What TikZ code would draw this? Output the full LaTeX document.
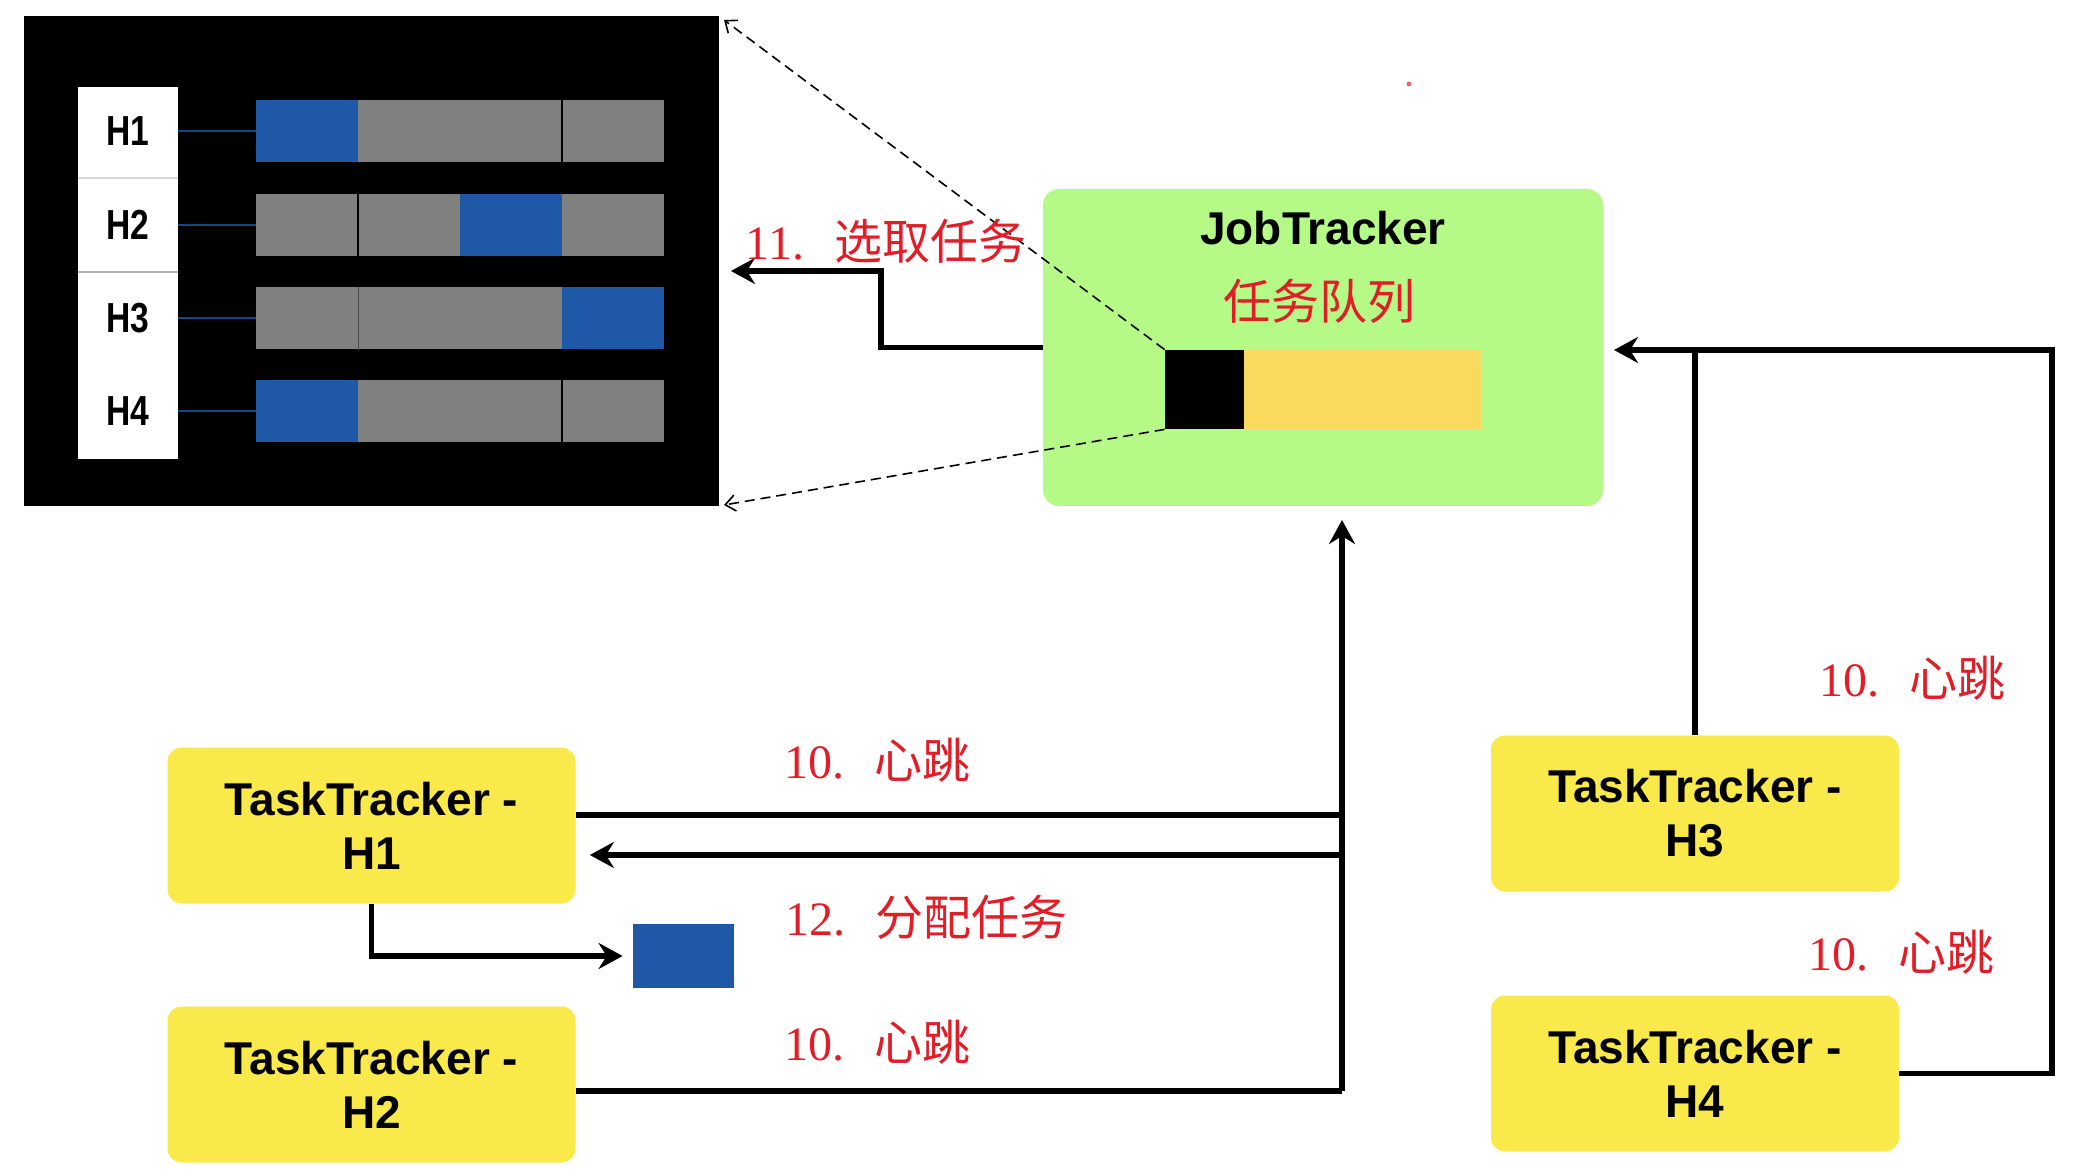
\documentclass[tikz,border=0pt]{standalone}
\usepackage{fontspec}
\setmainfont{Liberation Serif}
\newfontfamily\hv{Liberation Sans}
\newfontfamily\hvc[FakeStretch=0.8]{Liberation Sans}
\newfontfamily\cjk{Noto Sans CJK SC}
\usetikzlibrary{arrows.meta}
\definecolor{jtgreen}{RGB}{181,250,135}
\definecolor{ttyellow}{RGB}{249,233,74}
\definecolor{qyellow}{RGB}{250,218,94}
\definecolor{taskblue}{RGB}{30,88,166}
\definecolor{bargray}{RGB}{128,128,128}
\definecolor{lblred}{RGB}{225,30,40}
\tikzset{
  ttbox/.style={fill=ttyellow, rounded corners=7pt, minimum width=204pt, minimum height=78pt, inner sep=0pt, align=center, font=\hv\bfseries\fontsize{23}{27}\selectfont},
  rowlbl/.style={inner sep=0pt, font=\hvc\bfseries\fontsize{21}{24}\selectfont},
  barbox/.style={fill=bargray, minimum width=204pt, minimum height=31pt, inner sep=0pt},
  bluebox/.style={fill=taskblue, minimum height=31pt, minimum width=51pt, inner sep=0pt},
  conn/.style={line width=2.6pt, -{Stealth[length=12pt,width=13pt,inset=4pt]}},
  wire/.style={line width=2.6pt},
  dasharrow/.style={line width=0.8pt, dash pattern=on 5pt off 3pt, -{Straight Barb[length=5pt,width=8pt]}},
  redlbl/.style={text=lblred, inner sep=0pt, font=\fontsize{24}{28}\selectfont},
}
\newcommand{\hb}{10.\hspace{15pt}{\cjk 心跳}}
\begin{document}
\begin{tikzpicture}[x=0.5pt,y=-0.5pt]
\useasboundingbox (0,0) rectangle (2100,1171);
% screen panel
\node[fill=black, minimum width=347.5pt, minimum height=245pt, inner sep=0pt] (screen) at (371.5,261) {};
\node[fill=white, minimum width=50pt, minimum height=186pt, inner sep=0pt] (col) at (128,273) {};
\draw[gray!30, line width=0.6pt] (78,178) -- (178,178);
\draw[gray!60, line width=0.6pt] (78,272) -- (178,272);
% rows
\foreach \n/\y in {1/131, 2/225, 3/318, 4/411}{
  \node[rowlbl] (h\n) at (128,\y) {H\n};
  \node[barbox] (bar\n) at (460,\y) {};
  \draw[taskblue!80!black, line width=1pt] (178,\y) -- (bar\n.west);
}
\node[bluebox] (b1) at (307,131) {};
\node[bluebox] (b2) at (511,225) {};
\node[bluebox] (b3) at (613,318) {};
\node[bluebox] (b4) at (307,411) {};
\draw[black, line width=0.6pt] (562,100) -- (562,162);
\draw[black, line width=0.6pt] (358,194) -- (358,256);
\draw[black!70, line width=0.4pt] (358,287) -- (358,350);
\draw[black, line width=0.6pt] (562,380) -- (562,443);
% JobTracker
\node[fill=jtgreen, rounded corners=8pt, minimum width=280pt, minimum height=158.5pt, inner sep=0pt] (jt) at (1323,347.5) {};
\node[inner sep=0pt, font=\hv\bfseries\fontsize{23}{27}\selectfont] (jtlbl) at (1323,228) {JobTracker};
\node[redlbl, font=\cjk\fontsize{24}{28}\selectfont] (qlbl) at (1319,301) {任务队列};
\node[fill=black, minimum width=39.5pt, minimum height=39.5pt, inner sep=0pt] (qhead) at (1204.5,389.5) {};
\node[fill=qyellow, minimum width=118.5pt, minimum height=39.5pt, inner sep=0pt] (qtail) at (1362.5,389.5) {};
% dashed zoom lines
\coordinate (scrTR) at (724,20);
\coordinate (scrBR) at (724,505);
\draw[dasharrow] (qhead.north west) -- (scrTR);
\draw[dasharrow] (qhead.south west) -- (scrBR);
% step 11
\coordinate (sel) at (731,271);
\draw[conn] (jt.west) -- (881,347.5) |- (sel);
\node[redlbl] (l11) at (886,241) {11.\hspace{15pt}{\cjk 选取任务}};
% task trackers
\node[ttbox] (tt1) at (371.5,825.5) {TaskTracker -\\H1};
\node[ttbox] (tt2) at (371.5,1084.5) {TaskTracker -\\H2};
\node[ttbox] (tt3) at (1695,813.5) {TaskTracker -\\H3};
\node[ttbox] (tt4) at (1695,1073.5) {TaskTracker -\\H4};
\node[fill=taskblue, minimum width=50.5pt, minimum height=32pt, inner sep=0pt] (task) at (683.5,956) {};
% trunk of heartbeats
\coordinate (trunkTop) at (1342,520);
\coordinate (j1) at (1342,815);
\coordinate (j1b) at (1342,855);
\coordinate (j2) at (1342,1091);
\draw[wire] (tt1.east |- j1) -- (j1);
\draw[wire] (tt2.east |- j2) -- (j2);
\draw[conn] (j2) -- (trunkTop);
\draw[conn] (j1b) -- ([xshift=7pt]tt1.east |- j1b);
\draw[conn] (tt1.south) |- ([xshift=-5pt]task.west);
% right side
\coordinate (jtIn) at (1614,350);
\coordinate (rc) at (2052,350);
\draw[wire] (tt3.north) -- (tt3.north |- jtIn);
\draw[conn] (tt4.east) -| (rc) -- (jtIn);
% labels
\node[redlbl] (l10a) at (877,760) {\hb};
\node[redlbl] (l12) at (926,917) {12.\hspace{15pt}{\cjk 分配任务}};
\node[redlbl] (l10b) at (877,1042) {\hb};
\node[redlbl] (l10c) at (1912,678) {\hb};
\node[redlbl] (l10d) at (1901,952) {\hb};
\fill[lblred!70] (1409,84) circle (1.2pt);
\end{tikzpicture}
\end{document}
